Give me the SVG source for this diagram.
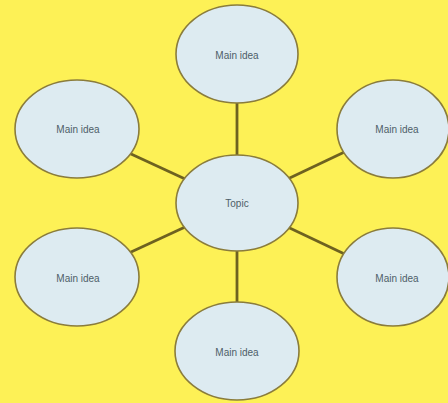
<svg xmlns="http://www.w3.org/2000/svg" width="448" height="403" viewBox="0 0 448 403">
<style>
.n ellipse{fill:#DDEBF1;stroke:#8A7C3C;stroke-width:1.6}
.n text{font-family:"Liberation Sans",Arial,sans-serif;font-size:10px;fill:#4E5E68;text-anchor:middle;dominant-baseline:central}
.c line{stroke:#6E6220;stroke-width:2.8}
</style>
<rect width="448" height="403" fill="#FDF156"/>
<g id="connectors" class="c">
<line x1="237" y1="203" x2="237" y2="54"/>
<line x1="237" y1="203" x2="77" y2="129"/>
<line x1="237" y1="203" x2="393" y2="129"/>
<line x1="237" y1="203" x2="77" y2="277"/>
<line x1="237" y1="203" x2="393" y2="277"/>
<line x1="237" y1="203" x2="237" y2="351"/>
</g>
<g id="topic" class="n"><ellipse cx="237" cy="203" rx="61" ry="48"/><text x="237" y="203">Topic</text></g>
<g id="idea-top" class="n"><ellipse cx="237" cy="54" rx="61" ry="49"/><text x="237" y="55">Main idea</text></g>
<g id="idea-upper-left" class="n"><ellipse cx="77" cy="129" rx="62" ry="49"/><text x="78" y="129">Main idea</text></g>
<g id="idea-upper-right" class="n"><ellipse cx="393" cy="129" rx="56" ry="49"/><text x="397" y="129">Main idea</text></g>
<g id="idea-lower-left" class="n"><ellipse cx="77" cy="277" rx="62" ry="49"/><text x="78" y="278">Main idea</text></g>
<g id="idea-lower-right" class="n"><ellipse cx="393" cy="277" rx="56" ry="49"/><text x="397" y="278">Main idea</text></g>
<g id="idea-bottom" class="n"><ellipse cx="237" cy="351" rx="62" ry="49"/><text x="237" y="352">Main idea</text></g>
</svg>
